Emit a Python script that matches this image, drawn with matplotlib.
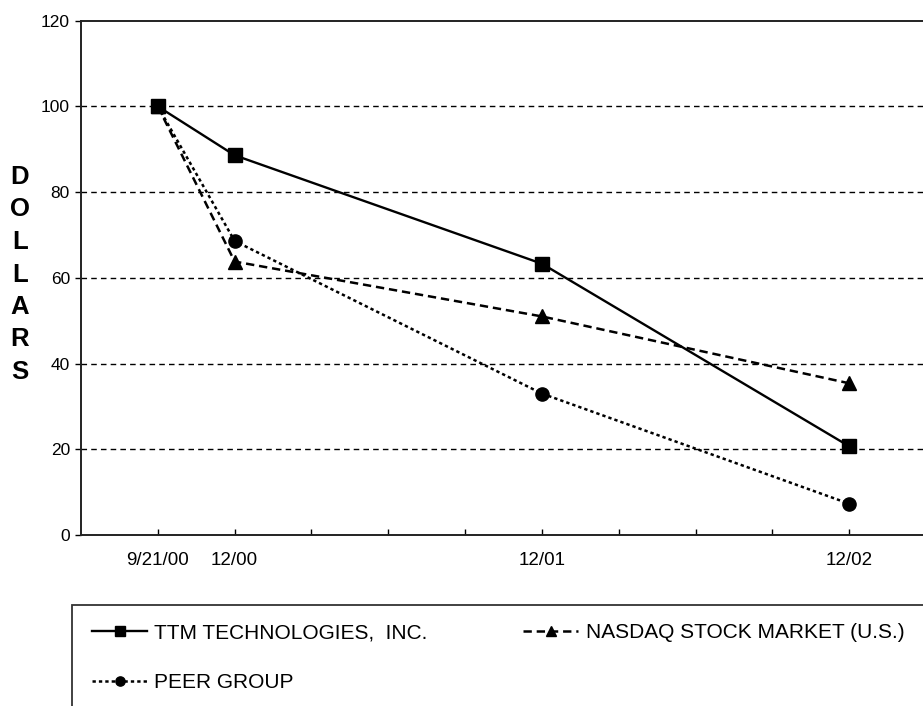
import matplotlib
matplotlib.use("Agg")
import matplotlib.pyplot as plt
from matplotlib.patches import Rectangle

plt.rcParams['font.family'] = ['Liberation Sans', 'DejaVu Sans']
plt.rcParams['lines.scale_dashes'] = False

# ---- data ----
x_positions = [0, 1, 5, 9]            # quarters since 9/21/00
x_labels = ["9/21/00", "12/00", "12/01", "12/02"]
ttm = [100, 88.6, 63.3, 20.7]
nasdaq = [100, 63.8, 51.0, 35.4]
peer = [100, 68.6, 33.0, 7.3]
series_names = ["TTM TECHNOLOGIES,  INC.", "NASDAQ STOCK MARKET (U.S.)", "PEER GROUP"]
y_ticks = [0, 20, 40, 60, 80, 100, 120]
minor_x = [2, 3, 4, 6, 7, 8]

W, H = 923, 706
fig = plt.figure(figsize=(W / 100, H / 100), dpi=100)
fig.patch.set_facecolor('white')

def fx(px):
    return px / W

def fy(py):
    return 1 - py / H

ax_left, ax_right, ax_top, ax_bottom = 81, 926, 20.7, 535
ax = fig.add_axes([fx(ax_left), fy(ax_bottom), fx(ax_right - ax_left), (ax_bottom - ax_top) / H])
ax.set_xlim(-1, 10)
ax.set_ylim(0, 120)

# grid lines
for yv in [20, 40, 60, 80, 100]:
    ax.axhline(yv, color='black', lw=1.0, dashes=(4, 3), zorder=1)

l_ttm, = ax.plot(x_positions, ttm, color='black', lw=1.7, ls='-', marker='s', ms=9.5,
                 zorder=4, label=series_names[0])
l_nas, = ax.plot(x_positions, nasdaq, color='black', lw=1.8, dashes=(6, 3.5), marker='^', ms=10.5,
                 zorder=3, label=series_names[1])
l_peer, = ax.plot(x_positions, peer, color='black', lw=1.8, dashes=(2.4, 2.2), marker='o', ms=9.5,
                  zorder=3, label=series_names[2])

ax.set_yticks(y_ticks)
ax.set_yticklabels([str(v) for v in y_ticks], fontsize=12.5)
ax.set_xticks(x_positions)
ax.set_xticklabels(x_labels, fontsize=13.5)
ax.set_xticks(minor_x, minor=True)
ax.tick_params(axis='x', which='both', direction='in', length=4, width=1.0, pad=12)
ax.tick_params(axis='y', which='both', direction='out', length=4, width=1.0, pad=4)

for s in ['left', 'bottom', 'top', 'right']:
    ax.spines[s].set_linewidth(1.4)
    ax.spines[s].set_color('#222222')

# vertical DOLLARS label
word = "DOLLARS"
y0, y1 = 177, 372
for i, ch in enumerate(word):
    yy = y0 + (y1 - y0) * i / (len(word) - 1)
    fig.text(fx(20), fy(yy), ch, ha='center', va='center', fontsize=18.5, fontweight='bold')

# legend frame
fig.add_artist(Rectangle((fx(72), -0.2), 1.2, fy(605) + 0.2, transform=fig.transFigure,
                         fill=False, lw=1.3, edgecolor='#333333'))

leg_kw = dict(loc='center left', frameon=False, borderpad=0, borderaxespad=0,
              handlelength=2.65, handletextpad=0.35, markerscale=0.7, numpoints=1, fontsize=15)
fig.legend(handles=[l_ttm], labels=[series_names[0]], bbox_to_anchor=(fx(92), fy(633)), **leg_kw)
fig.legend(handles=[l_nas], labels=[series_names[1]], bbox_to_anchor=(fx(523), fy(633)), **leg_kw)
fig.legend(handles=[l_peer], labels=[series_names[2]], bbox_to_anchor=(fx(92), fy(683)), **leg_kw)

fig.savefig("out.png", dpi=100)
